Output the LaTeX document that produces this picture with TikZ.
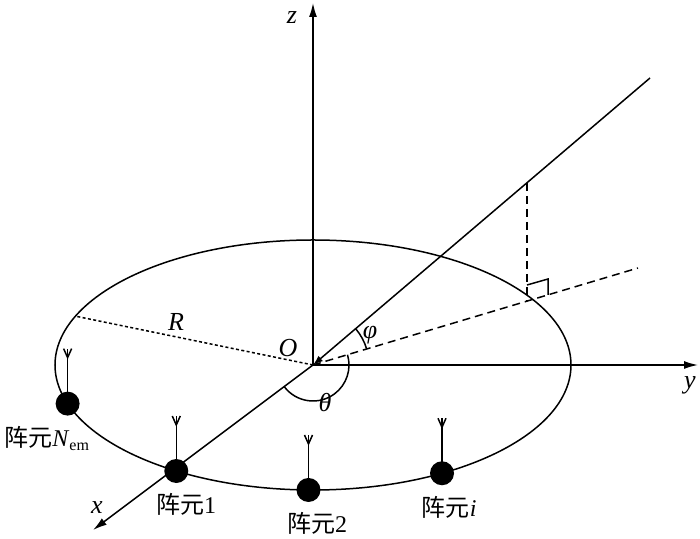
\documentclass[tikz,border=0pt]{standalone}
\usepackage{fontspec}
\setmainfont{Liberation Serif}
\newfontfamily\cjk{Noto Sans CJK SC}
\usetikzlibrary{arrows.meta}
\newcommand{\zhenyuan}{{\cjk 阵元}}
\tikzset{
  axis/.style={-{Latex[length=7pt,width=4pt]}},
  projline/.style={dash pattern=on 4pt off 2.5pt},
  radiusline/.style={dash pattern=on 1.5pt off 1.2pt},
  element/.style={circle,fill,inner sep=0pt,minimum size=12pt},
  elemtext/.style={anchor=north west,inner sep=0pt},
  letter/.style={font=\fontsize{13}{15}\selectfont\itshape},
}
\begin{document}
\begin{tikzpicture}[x=0.5pt,y=0.5pt,line width=0.75pt,font=\fontsize{12}{14}\selectfont]
    \useasboundingbox (-313,-174) rectangle (387,365);
    %% Origin and axes
    \coordinate (O) at (0,0);
    \coordinate (zend) at (0,362);
    \coordinate (yend) at (385,0);
    \coordinate (xend) at (-220,-165);
    \draw[axis] (O) -- (zend);
    \draw[axis] (O) -- (yend);
    \draw[axis] (O) -- (xend);
    \node[letter] (zlab) at (-21,347) {z};
    \node[letter] (ylab) at (377,-20) {y};
    \node[letter] (xlab) at (-216,-143) {x};
    \node[letter] (Olab) at (-25,17) {O};
    %% Array circle and radius
    \draw (O) ellipse (258 and 125);
    \coordinate (Redge) at (157:258 and 125);
    \draw[radiusline] (O) -- (Redge);
    \node[letter] (Rlab) at (-137,43) {R};
    %% Incoming direction and its projection
    \coordinate (L) at (337,287);
    \coordinate (P) at (214,182);
    \coordinate (F) at (214,64);
    \coordinate (D) at (325,97);
    \draw[-{Latex[length=5pt,width=3.5pt]}] (L) -- (O);
    \draw[projline] (O) -- (D);
    \draw[projline] (P) -- (F);
    \draw (F) ++(0,16) -- ++(21,6) -- ++(0,-16);
    %% Angles
    \draw (O) ++(16.6:56) arc (16.6:40.4:56);
    \node[letter] (philab) at (57,30) {φ};
    \draw (O) ++(216.9:36) arc (216.9:376.6:36);
    \node[letter] (thetalab) at (12,-38) {θ};
    %% Array elements
    \foreach \t/\name/\txt/\dx in {198/Nem/{\zhenyuan\textit{N}\textsubscript{em}}/-64, 238/one/\zhenyuan1/-21, 269/two/\zhenyuan2/-22, 300/i/\zhenyuan\textit{i}/-21} {
        \node[element] (e\name) at (\t:258 and 125) {};
        \path (e\name) ++(0,55) coordinate (a\name);
        \draw (e\name.center) -- (a\name);
        \draw (a\name) ++(-4,0) -- ++(4,-9) -- ++(4,9);
        \node[elemtext] (t\name) at ([shift={(\dx,-22)}]e\name) {\txt};
    }
\end{tikzpicture}
\end{document}
